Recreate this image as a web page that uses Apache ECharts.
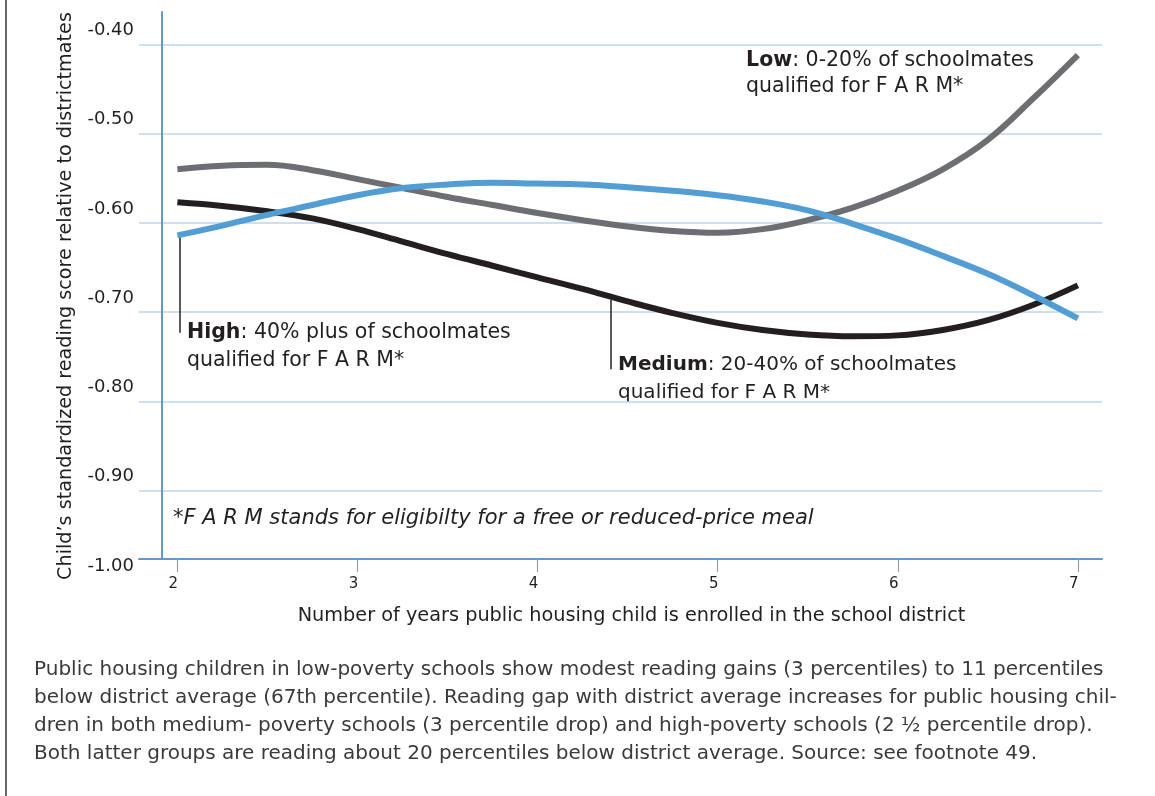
<!DOCTYPE html>
<html><head><meta charset="utf-8">
<script src="https://cdn.jsdelivr.net/npm/echarts@6/dist/echarts.min.js"></script>
<style>html,body{margin:0;padding:0;background:#fff}#c{width:1155px;height:796px}</style>
</head><body><div id="c"></div>
<script>
const years = [2, 2.25, 2.5, 2.75, 3, 3.25, 3.5, 3.75, 4, 4.25, 4.5, 4.75, 5, 5.25, 5.5, 5.75, 6, 6.25, 6.5, 6.75, 7];
const lowPoverty = [-0.540, -0.536, -0.535, -0.541, -0.551, -0.561, -0.571, -0.580, -0.589, -0.597, -0.604, -0.609, -0.611, -0.607, -0.597, -0.583, -0.564, -0.540, -0.507, -0.461, -0.412];
const mediumPoverty = [-0.577, -0.581, -0.587, -0.595, -0.607, -0.621, -0.635, -0.648, -0.661, -0.674, -0.688, -0.701, -0.712, -0.720, -0.725, -0.727, -0.726, -0.720, -0.709, -0.692, -0.670];
const highPoverty = [-0.614, -0.603, -0.591, -0.580, -0.569, -0.561, -0.557, -0.555, -0.556, -0.557, -0.560, -0.564, -0.569, -0.576, -0.586, -0.601, -0.618, -0.637, -0.657, -0.681, -0.707];
const xTickValues = [2, 3, 4, 5, 6, 7];
const captionLines = [
  'Public housing children in low-poverty schools show modest reading gains (3 percentiles) to 11 percentiles',
  'below district average (67th percentile). Reading gap with district average increases for public housing chil-',
  'dren in both medium- poverty schools (3 percentile drop) and high-poverty schools (2 \u00bd percentile drop).',
  'Both latter groups are reading about 20 percentiles below district average. Source: see footnote 49.'
];

const FONT = '"DejaVu Sans", "Open Sans", sans-serif';
const pairs = arr => years.map((x, i) => [x, arr[i]]);
const XMIN = 1.787, XMAX = 7.134;

const chart = echarts.init(document.getElementById('c'), null, {renderer: 'canvas'});
chart.setOption({
  backgroundColor: '#ffffff',
  animation: false,
  textStyle: {fontFamily: FONT},
  grid: [
    {left: 139, right: 53, top: 12, bottom: 216},
    {left: 139, right: 53, top: 12, bottom: 237}
  ],
  xAxis: [
    {type: 'value', gridIndex: 0, min: XMIN, max: XMAX, show: false},
    {type: 'value', gridIndex: 1, min: XMIN, max: XMAX,
      name: 'Number of years public housing child is enrolled in the school district',
      nameLocation: 'middle', nameGap: 47,
      nameTextStyle: {fontSize: 19.3, color: '#231f20', fontFamily: FONT, padding: [0, 0, 0, 22]},
      axisLine: {show: true, lineStyle: {color: '#5b9bd5', width: 2}},
      axisTick: {show: true, customValues: xTickValues, length: 13, lineStyle: {color: '#a0a0a0', width: 1.2}},
      axisLabel: {customValues: xTickValues, fontSize: 15, color: '#231f20', margin: 18, padding: [0, 8, 0, 0], fontFamily: FONT},
      splitLine: {show: false}
    }
  ],
  yAxis: [
    {type: 'value', gridIndex: 0, min: -1.0, max: -0.3638, interval: 0.1,
      name: 'Child\u2019s standardized reading score relative to districtmates',
      nameLocation: 'middle', nameGap: 63,
      nameTextStyle: {fontSize: 19.2, color: '#231f20', fontFamily: FONT},
      axisLine: {show: false}, axisTick: {show: false},
      axisLabel: {showMaxLabel: false, formatter: v => v.toFixed(2), fontSize: 18, color: '#231f20',
        margin: 5, verticalAlign: 'bottom', lineHeight: 18, padding: [0, 0, 5, 0], fontFamily: FONT},
      splitLine: {show: true, showMinLine: false, showMaxLine: false, lineStyle: {color: '#bcd5ee', width: 1.5}}
    },
    {type: 'value', gridIndex: 1, min: 0, max: 1, offset: -23,
      axisLine: {show: true, lineStyle: {color: '#5b9bd5', width: 2}},
      axisTick: {show: false}, axisLabel: {show: false}, splitLine: {show: false}
    }
  ],
  series: [
    {name: 'Medium', type: 'line', xAxisIndex: 0, yAxisIndex: 0, data: pairs(mediumPoverty),
      smooth: 0.4, showSymbol: false, lineStyle: {color: '#231f20', width: 6}, z: 3,
      markLine: {silent: true, symbol: 'none', label: {show: false},
        lineStyle: {color: '#231f20', width: 1.5, type: 'solid'},
        data: [[{coord: [4.406, -0.686]}, {coord: [4.406, -0.764]}]]}
    },
    {name: 'Low', type: 'line', xAxisIndex: 0, yAxisIndex: 0, data: pairs(lowPoverty),
      smooth: 0.4, showSymbol: false, lineStyle: {color: '#6d6e71', width: 6}, z: 4},
    {name: 'High', type: 'line', xAxisIndex: 0, yAxisIndex: 0, data: pairs(highPoverty),
      smooth: 0.4, showSymbol: false, lineStyle: {color: '#529dd3', width: 6}, z: 5,
      markLine: {silent: true, symbol: 'none', label: {show: false},
        lineStyle: {color: '#231f20', width: 1.5, type: 'solid'},
        data: [[{coord: [2.012, -0.616]}, {coord: [2.012, -0.723]}]]}
    }
  ],
  graphic: [
    {type: 'line', shape: {x1: 6, y1: 0, x2: 6, y2: 796}, style: {stroke: '#333333', lineWidth: 1.5}},
    {type: 'text', right: 1155 - 1034, top: 48, style: {
      text: '{b|Low}: 0-20% of schoolmates\nqualified for F A R M*', align: 'right',
      font: '20.5px ' + FONT, fill: '#231f20', lineHeight: 26,
      rich: {b: {fontWeight: 'bold', fontSize: 20.5, fontFamily: FONT, fill: '#231f20', lineHeight: 26}}}},
    {type: 'text', left: 187, top: 319, style: {
      text: '{b|High}: 40% plus of schoolmates\nqualified for F A R M*',
      font: '20.5px ' + FONT, fill: '#231f20', lineHeight: 28,
      rich: {b: {fontWeight: 'bold', fontSize: 20.5, fontFamily: FONT, fill: '#231f20', lineHeight: 28}}}},
    {type: 'text', left: 618, top: 351, style: {
      text: '{b|Medium}: 20-40% of schoolmates\nqualified for F A R M*',
      font: '20px ' + FONT, fill: '#231f20', lineHeight: 28,
      rich: {b: {fontWeight: 'bold', fontSize: 20, fontFamily: FONT, fill: '#231f20', lineHeight: 28}}}},
    {type: 'text', left: 173, top: 508, style: {
      text: '*F A R M stands for eligibilty for a free or reduced-price meal',
      font: 'italic 21px ' + FONT, fill: '#231f20'}},
    {type: 'text', left: 34, top: 656, style: {
      text: captionLines.join('\n'), font: '20px ' + FONT, fill: '#3a3a3a', lineHeight: 28}}
  ]
});
</script></body></html>
